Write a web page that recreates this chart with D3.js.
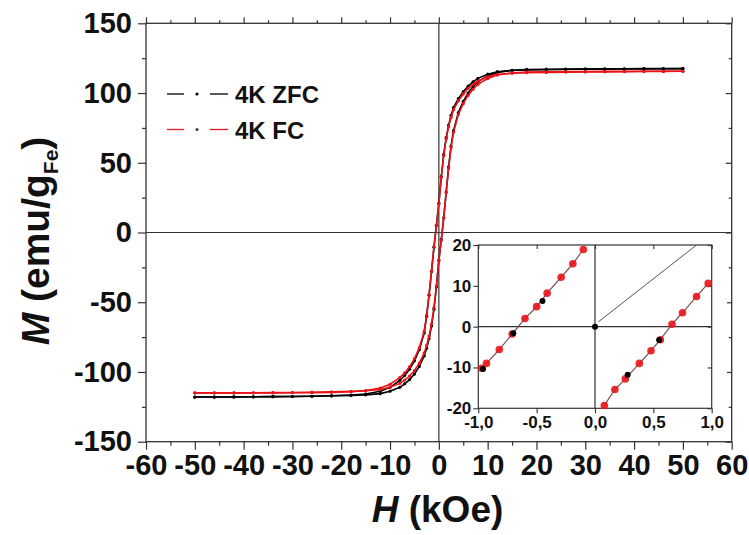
<!DOCTYPE html>
<html><head><meta charset="utf-8">
<script src="https://cdn.jsdelivr.net/npm/d3@7"></script>
<style>
html,body{margin:0;padding:0;background:#fff;}
svg{display:block;font-family:"Liberation Sans",Arial,sans-serif;}
</style></head>
<body><svg id="c" width="749" height="535"></svg>
<script>
// ---- data ----
const fieldDown = [50,46,42,38,34,30,26,22,18,15,12,10,8,7,6,5,4,3,2.5,2,1.5,1,0.5,0,-0.5,-1,-1.5,-2,-2.5,-3,-4,-5,-6,-7,-8,-10,-12,-15,-18,-22,-26,-30,-34,-38,-42,-46,-50];
const fieldUp = [-50,-46,-42,-38,-34,-30,-26,-22,-18,-15,-12,-10,-8,-7,-6,-5,-4,-3,-2.5,-2,-1.5,-1,-0.5,0,0.5,1,1.5,2,2.5,3,4,5,6,7,8,10,12,15,18,22,26,30,34,38,42,46,50];
const zfcDown = [117.5,117.4,117.3,117.2,117.1,117.0,116.9,116.7,116.5,116.2,115.3,113.5,110.5,108,105,101,96,89.5,84,77,68,56,40,21,5,-10.5,-28,-45,-60,-72,-84,-92,-98,-102.5,-106,-111,-113.8,-115.8,-116.6,-117.1,-117.4,-117.6,-117.7,-117.8,-117.9,-118,-118];
const zfcUp = [-118,-118,-117.9,-117.8,-117.7,-117.6,-117.4,-117.1,-116.8,-116.4,-115.5,-113.8,-111,-108.5,-105.5,-101.5,-96,-88.5,-83,-76,-67,-55,-39,-20,-5,10.5,29,47,62,73,86,94,100,104.5,108,112.3,114.8,116.3,116.9,117.1,117.2,117.3,117.4,117.4,117.5,117.5,117.5];
const fcDown = [115.6,115.5,115.4,115.3,115.2,115.1,115.0,114.8,114.6,114.2,113.3,111.6,108.6,106.2,103.2,99.3,94.4,88,82.6,75.8,67,55.2,39.5,20.5,5.2,-10.2,-27.5,-44.3,-59,-70.8,-82.6,-90.4,-96.3,-100.7,-104,-108.8,-111.5,-113.4,-114.2,-114.6,-114.8,-114.9,-115,-115,-115,-115,-115];
const fcUp = [-115,-115,-115,-114.9,-114.8,-114.7,-114.5,-114.2,-113.9,-113.5,-112.6,-110.9,-108.2,-105.8,-102.9,-99,-93.7,-86.4,-81,-74.3,-65.5,-53.8,-38.3,-19.8,-5.5,10.5,28.6,46.2,61,71.8,84.6,92.4,98.3,102.7,106.2,110.4,112.9,114.4,115,115.2,115.3,115.4,115.5,115.5,115.6,115.6,115.6];

// inset (zoom around origin)
const insetFcLeftH = [-0.97,-0.93,-0.82,-0.71,-0.6,-0.5,-0.41,-0.29,-0.19,-0.1];
const insetFcLeftM = [-10.2,-9.0,-5.6,-1.8,2.0,4.9,8.2,12.1,15.4,18.9];
const insetFcRightH = [0.08,0.17,0.26,0.38,0.48,0.56,0.66,0.75,0.87,0.97];
const insetFcRightM = [-19.3,-15.4,-12.8,-9.0,-5.9,-3.2,0.6,3.4,7.4,10.6];
const insetZfcH = [-0.96,-0.7,-0.45,0,0.28,0.55];
const insetZfcM = [-10.4,-1.6,6.3,0,-11.8,-3.3];
const zfcVirginH = [0.03,0.87];
const zfcVirginM = [1.2,20];

const xTicks = [-60,-50,-40,-30,-20,-10,0,10,20,30,40,50,60];
const yTicks = [-150,-100,-50,0,50,100,150];
const insetXTicks = [-1,-0.5,0,0.5,1];
const insetYTicks = [-20,-10,0,10,20];
const seriesNames = ["4K ZFC","4K FC"];
const seriesColors = ["#000000","#e8141a"];

// ---- chart ----
const svg = d3.select("#c");
const x = d3.scaleLinear().domain([-60,60]).range([146,731.7]);
const y = d3.scaleLinear().domain([-150,150]).range([441.7,23.3]);
const line = d3.line().x(d=>x(d[0])).y(d=>y(d[1]));
const zip = (a,b)=>a.map((v,i)=>[v,b[i]]);

const axisCol = "#333";
svg.append("rect").attr("x",x(-60)).attr("y",y(150)).attr("width",x(60)-x(-60)).attr("height",y(-150)-y(150))
  .attr("fill","none").attr("stroke",axisCol).attr("stroke-width",1.3);

const fmt = d=>String(d).replace("−","-");
const minorX = d3.range(-55,60,10);
const minorY = d3.range(-125,150,50);
const gB = svg.append("g").attr("transform",`translate(0,${y(-150)})`)
  .call(d3.axisBottom(x).tickValues(xTicks).tickSize(8).tickPadding(3).tickFormat(fmt));
gB.append("g").call(d3.axisBottom(x).tickValues(minorX).tickSize(4).tickFormat(""));
const gL = svg.append("g").attr("transform",`translate(${x(-60)},0)`)
  .call(d3.axisLeft(y).tickValues(yTicks).tickSize(8).tickPadding(6).tickFormat(fmt));
gL.append("g").call(d3.axisLeft(y).tickValues(minorY).tickSize(4).tickFormat(""));
const gT = svg.append("g").attr("transform",`translate(0,${y(150)})`)
  .call(d3.axisTop(x).tickValues(xTicks).tickSize(6).tickFormat(""));
gT.append("g").call(d3.axisTop(x).tickValues(minorX).tickSize(3).tickFormat(""));
const gR = svg.append("g").attr("transform",`translate(${x(60)},0)`)
  .call(d3.axisLeft(y).tickValues(yTicks).tickSize(6).tickFormat(""));
gR.append("g").call(d3.axisLeft(y).tickValues(minorY).tickSize(3).tickFormat(""));
[gB,gL,gT,gR].forEach(g=>{
  g.selectAll(".domain").remove();
  g.selectAll("line").attr("stroke",axisCol).attr("stroke-width",1.2);
  g.selectAll("text").attr("font-size",29).attr("font-weight","bold").attr("fill","#111")
   .attr("font-family","'Liberation Sans',Arial,sans-serif");
});
gB.selectAll("text").attr("dy","0.78em");

svg.append("line").attr("x1",x(-60)).attr("x2",x(60)).attr("y1",y(0)).attr("y2",y(0)).attr("stroke",axisCol).attr("stroke-width",1.2);
svg.append("line").attr("x1",x(0)).attr("x2",x(0)).attr("y1",y(150)).attr("y2",y(-150)).attr("stroke",axisCol).attr("stroke-width",1.2);

const mainSeries = [
  {c:seriesColors[0], branches:[zip(fieldDown,zfcDown), zip(fieldUp,zfcUp)]},
  {c:seriesColors[1], branches:[zip(fieldDown,fcDown), zip(fieldUp,fcUp)]}
];
mainSeries.forEach(s=>{
  s.branches.forEach(b=>{
    svg.append("path").attr("d",line(b)).attr("fill","none").attr("stroke",s.c).attr("stroke-width",1.6);
    svg.append("g").selectAll("circle").data(b).join("circle")
      .attr("cx",d=>x(d[0])).attr("cy",d=>y(d[1])).attr("r",1.6).attr("fill",s.c);
  });
});

// legend
seriesNames.forEach((n,i)=>{
  const ly = 94 + i*35.5;
  const g = svg.append("g");
  g.append("line").attr("x1",167).attr("x2",184).attr("y1",ly).attr("y2",ly).attr("stroke",seriesColors[i]).attr("stroke-width",1.3);
  g.append("line").attr("x1",210).attr("x2",228).attr("y1",ly).attr("y2",ly).attr("stroke",seriesColors[i]).attr("stroke-width",1.3);
  g.append("circle").attr("cx",197).attr("cy",ly).attr("r",1.6).attr("fill",i===0?"#000":"#444");
  g.append("text").attr("x",235).attr("y",ly+9).attr("font-size",24).attr("font-weight","bold").attr("fill","#111").text(n);
});

// axis titles
const xt = svg.append("text").attr("x",437.5).attr("y",522).attr("text-anchor","middle")
  .attr("font-size",37).attr("font-weight","bold").attr("fill","#111");
xt.append("tspan").attr("font-style","italic").text("H");
xt.append("tspan").text(" (kOe)");
const yt = svg.append("text").attr("transform","translate(49,241) rotate(-90)").attr("text-anchor","middle")
  .attr("font-size",39).attr("font-weight","bold").attr("fill","#111");
yt.append("tspan").attr("font-style","italic").text("M");
yt.append("tspan").text(" (emu/g");
yt.append("tspan").attr("font-size",21).attr("dy",9).text("Fe");
yt.append("tspan").attr("dy",-9).text(")");

// ---- inset ----
const ix = d3.scaleLinear().domain([-1,1]).range([478.3,711.7]);
const iy = d3.scaleLinear().domain([-20,20]).range([408.3,245]);
const iline = d3.line().x(d=>ix(d[0])).y(d=>iy(d[1]));
svg.append("rect").attr("x",445).attr("y",236).attr("width",282).attr("height",200).attr("fill","#fff");
svg.append("rect").attr("x",ix(-1)).attr("y",iy(20)).attr("width",ix(1)-ix(-1)).attr("height",iy(-20)-iy(20))
  .attr("fill","none").attr("stroke",axisCol).attr("stroke-width",1.2);
const iB = svg.append("g").attr("transform",`translate(0,${iy(-20)})`)
  .call(d3.axisBottom(ix).tickValues(insetXTicks).tickSize(5).tickPadding(2).tickFormat(d=>d3.format(".1f")(d).replace("−","-").replace(".",",")));
const iL = svg.append("g").attr("transform",`translate(${ix(-1)},0)`)
  .call(d3.axisLeft(iy).tickValues(insetYTicks).tickSize(5).tickPadding(2).tickFormat(fmt));
const iT = svg.append("g").attr("transform",`translate(0,${iy(20)})`)
  .call(d3.axisBottom(ix).tickValues(insetXTicks).tickSize(4).tickFormat(""));
const iR = svg.append("g").attr("transform",`translate(${ix(1)},0)`)
  .call(d3.axisLeft(iy).tickValues(insetYTicks).tickSize(4).tickFormat(""));
[iB,iL,iT,iR].forEach(g=>{
  g.selectAll(".domain").remove();
  g.selectAll("line").attr("stroke",axisCol).attr("stroke-width",1.1);
  g.selectAll("text").attr("font-size",17).attr("font-weight","bold").attr("fill","#111")
   .attr("font-family","'Liberation Sans',Arial,sans-serif");
});
iB.selectAll("text").attr("dy","0.72em");
svg.append("line").attr("x1",ix(-1)).attr("x2",ix(1)).attr("y1",iy(0)).attr("y2",iy(0)).attr("stroke",axisCol).attr("stroke-width",1.2);
svg.append("line").attr("x1",ix(0)).attr("x2",ix(0)).attr("y1",iy(20)).attr("y2",iy(-20)).attr("stroke",axisCol).attr("stroke-width",1.2);

svg.append("path").attr("d",iline(zip(zfcVirginH,zfcVirginM))).attr("fill","none").attr("stroke","#555").attr("stroke-width",1);
[zip(insetFcLeftH,insetFcLeftM), zip(insetFcRightH,insetFcRightM)].forEach(b=>{
  svg.append("path").attr("d",iline(b)).attr("fill","none").attr("stroke","#7a5050").attr("stroke-width",1.2);
  svg.append("g").selectAll("circle").data(b).join("circle")
    .attr("cx",d=>ix(d[0])).attr("cy",d=>iy(d[1])).attr("r",3.8).attr("fill",seriesColors[1]).attr("opacity",0.9);
});
svg.append("g").selectAll("circle").data(zip(insetZfcH,insetZfcM)).join("circle")
  .attr("cx",d=>ix(d[0])).attr("cy",d=>iy(d[1])).attr("r",3).attr("fill","#000");
</script></body></html>
